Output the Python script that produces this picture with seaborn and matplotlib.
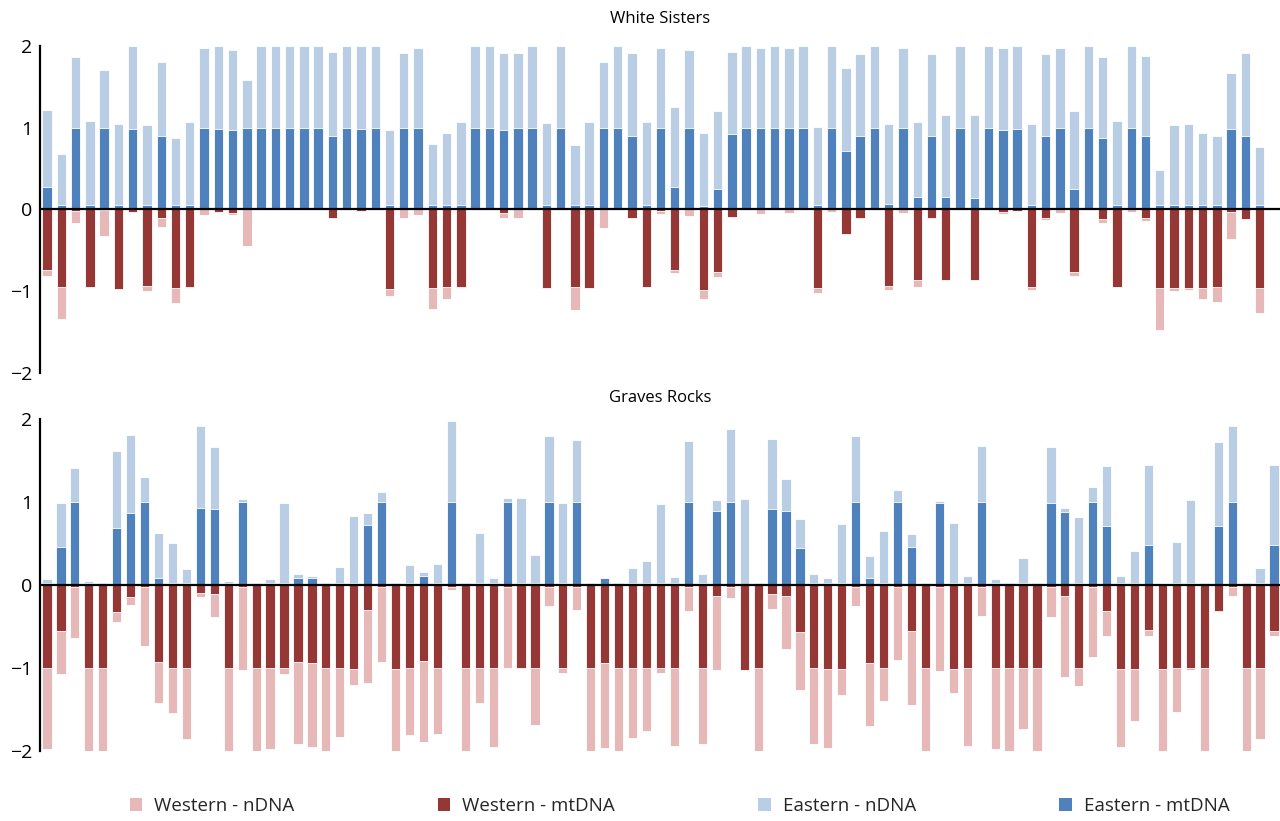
import numpy as np
import pandas as pd
import matplotlib
matplotlib.use("Agg")
import matplotlib.pyplot as plt
from matplotlib.patches import Patch
import seaborn as sns

# ---------------- data ----------------
# White Sisters: Eastern mtDNA, Eastern total (mtDNA + nDNA), Western mtDNA, Western total (magnitudes)
ws_east_mt = [0.27, 0.06, 1.0, 0.06, 1.0, 0.05, 0.98, 0.06, 0.9, 0.05, 0.06, 1.0, 0.98, 0.97, 1.0,
              1.0, 1.0, 1.0, 1.0, 1.0, 0.9, 1.0, 0.99, 1.0, 0.05, 1.0, 1.0, 0.05, 0.06, 0.06,
              1.0, 1.0, 0.97, 1.0, 1.0, 0.05, 1.0, 0.06, 0.05, 1.0, 1.0, 0.9, 0.06, 1.0, 0.27,
              1.0, 0.04, 0.25, 0.92, 1.0, 1.0, 1.0, 1.0, 1.0, 0.05, 1.0, 0.71, 0.9, 1.0, 0.07,
              1.0, 0.15, 0.9, 0.15, 1.0, 0.14, 1.0, 0.97, 0.99, 0.06, 0.9, 1.0, 0.25, 1.0, 0.88,
              0.06, 1.0, 0.9, 0.05, 0.05, 0.05, 0.05, 0.06, 0.98, 0.9, 0.05]
ws_east_total = [1.22, 0.68, 1.87, 1.08, 1.71, 1.05, 2.0, 1.03, 1.81, 0.88, 1.07, 1.97, 2.0, 1.95, 1.58,
                 2.0, 2.0, 2.0, 2.0, 2.0, 1.93, 2.0, 2.0, 2.0, 0.97, 1.91, 1.97, 0.80, 0.93, 1.07,
                 2.0, 2.0, 1.91, 1.91, 2.0, 1.06, 2.0, 0.79, 1.07, 1.81, 2.0, 1.91, 1.07, 1.98, 1.25,
                 1.95, 0.94, 1.20, 1.93, 2.0, 1.97, 2.0, 1.98, 2.0, 1.01, 2.0, 1.73, 1.90, 2.0, 1.04,
                 1.98, 1.07, 1.90, 1.16, 2.0, 1.16, 2.0, 1.98, 2.0, 1.04, 1.90, 1.98, 1.21, 2.0, 1.86,
                 1.08, 2.0, 1.88, 0.48, 1.03, 1.04, 0.94, 0.90, 1.67, 1.91, 0.76]
ws_west_mt = [0.74, 0.95, 0.02, 0.95, 0.01, 0.97, 0.03, 0.94, 0.11, 0.96, 0.95, 0.0, 0.03, 0.04, 0.0,
              0.0, 0.0, 0.0, 0.0, 0.0, 0.10, 0.0, 0.02, 0.0, 0.97, 0.0, 0.0, 0.96, 0.95, 0.95,
              0.0, 0.0, 0.04, 0.0, 0.0, 0.96, 0.0, 0.95, 0.96, 0.0, 0.0, 0.11, 0.95, 0.02, 0.74,
              0.0, 0.98, 0.76, 0.09, 0.0, 0.0, 0.0, 0.0, 0.0, 0.96, 0.0, 0.30, 0.10, 0.0, 0.94,
              0.0, 0.86, 0.10, 0.86, 0.0, 0.86, 0.0, 0.03, 0.02, 0.95, 0.10, 0.0, 0.76, 0.0, 0.12,
              0.95, 0.0, 0.10, 0.96, 0.96, 0.96, 0.96, 0.95, 0.03, 0.12, 0.96]
ws_west_total = [0.81, 1.34, 0.16, 0.95, 0.32, 0.97, 0.03, 1.0, 0.22, 1.14, 0.96, 0.07, 0.03, 0.07, 0.45,
                 0.0, 0.0, 0.0, 0.0, 0.0, 0.10, 0.0, 0.02, 0.0, 1.06, 0.11, 0.07, 1.22, 1.10, 0.96,
                 0.0, 0.0, 0.11, 0.11, 0.0, 0.96, 0.0, 1.23, 0.96, 0.23, 0.0, 0.11, 0.95, 0.06, 0.78,
                 0.08, 1.09, 0.83, 0.10, 0.0, 0.06, 0.0, 0.04, 0.0, 1.02, 0.03, 0.30, 0.12, 0.0, 0.99,
                 0.04, 0.95, 0.12, 0.86, 0.0, 0.86, 0.0, 0.05, 0.02, 0.98, 0.13, 0.04, 0.81, 0.0, 0.17,
                 0.95, 0.03, 0.14, 1.48, 1.0, 0.99, 1.09, 1.13, 0.36, 0.12, 1.27]

# Graves Rocks
gr_east_mt = [0.02, 0.46, 1.0, 0.02, 0.02, 0.69, 0.87, 1.0, 0.09, 0.02, 0.02, 0.93, 0.91, 0.02, 1.0,
              0.02, 0.02, 0.02, 0.09, 0.09, 0.02, 0.02, 0.02, 0.72, 1.0, 0.02, 0.02, 0.11, 0.02, 1.0,
              0.02, 0.02, 0.02, 1.0, 0.02, 0.02, 1.0, 0.02, 1.0, 0.02, 0.09, 0.02, 0.02, 0.02, 0.02,
              0.02, 1.0, 0.02, 0.89, 1.0, 0.0, 0.02, 0.91, 0.89, 0.45, 0.02, 0.02, 0.02, 1.0, 0.09,
              0.02, 1.0, 0.46, 0.02, 0.99, 0.02, 0.02, 1.0, 0.02, 0.02, 0.02, 0.02, 0.99, 0.88, 0.02,
              1.0, 0.71, 0.02, 0.02, 0.48, 0.0, 0.02, 0.02, 0.02, 0.71, 1.0, 0.02, 0.02, 0.48]
gr_east_total = [0.07, 0.99, 1.41, 0.05, 0.02, 1.61, 1.81, 1.30, 0.63, 0.51, 0.19, 1.91, 1.66, 0.05, 1.04,
                 0.03, 0.07, 0.99, 0.13, 0.11, 0.02, 0.22, 0.83, 0.87, 1.12, 0.03, 0.24, 0.16, 0.25, 1.98,
                 0.03, 0.63, 0.09, 1.05, 1.05, 0.36, 1.80, 0.99, 1.75, 0.02, 0.09, 0.03, 0.21, 0.29, 0.98,
                 0.10, 1.74, 0.13, 1.03, 1.88, 1.04, 0.02, 1.76, 1.28, 0.79, 0.13, 0.09, 0.74, 1.80, 0.35,
                 0.65, 1.15, 0.61, 0.03, 1.01, 0.75, 0.11, 1.68, 0.07, 0.03, 0.32, 0.02, 1.66, 0.93, 0.82,
                 1.18, 1.43, 0.11, 0.41, 1.44, 0.0, 0.52, 1.02, 0.02, 1.72, 1.92, 0.04, 0.20, 1.44]
gr_west_mt = [1.0, 0.56, 0.02, 1.0, 1.0, 0.33, 0.15, 0.02, 0.93, 1.0, 1.0, 0.10, 0.11, 1.0, 0.02,
              1.0, 1.0, 1.0, 0.93, 0.94, 1.0, 1.0, 1.01, 0.30, 0.02, 1.01, 1.0, 0.92, 1.0, 0.02,
              1.0, 1.0, 1.0, 0.02, 1.0, 1.0, 0.02, 1.0, 0.02, 1.0, 0.94, 1.0, 1.0, 1.0, 1.0,
              1.0, 0.02, 1.0, 0.13, 0.02, 1.02, 1.0, 0.11, 0.13, 0.57, 1.0, 1.01, 1.01, 0.02, 0.94,
              1.0, 0.02, 0.56, 1.0, 0.03, 1.01, 1.0, 0.02, 1.0, 1.0, 1.0, 1.0, 0.03, 0.13, 1.0,
              0.02, 0.31, 1.01, 1.01, 0.54, 1.01, 1.0, 1.0, 1.0, 0.31, 0.02, 1.0, 1.0, 0.55]
gr_west_total = [1.98, 1.07, 0.64, 2.0, 2.0, 0.45, 0.24, 0.74, 1.42, 1.54, 1.86, 0.14, 0.39, 2.0, 1.02,
                 2.0, 1.98, 1.07, 1.91, 1.95, 2.0, 1.83, 1.21, 1.18, 0.93, 2.01, 1.81, 1.89, 1.80, 0.06,
                 2.0, 1.42, 1.95, 1.0, 1.0, 1.69, 0.25, 1.06, 0.30, 2.0, 1.96, 2.0, 1.84, 1.76, 1.06,
                 1.94, 0.31, 1.91, 1.02, 0.16, 1.02, 2.0, 0.29, 0.77, 1.26, 1.91, 1.96, 1.32, 0.25, 1.70,
                 1.40, 0.90, 1.44, 2.0, 1.04, 1.30, 1.94, 0.37, 1.98, 2.0, 1.73, 2.0, 0.39, 1.11, 1.22,
                 0.87, 0.62, 1.95, 1.64, 0.61, 2.0, 1.53, 1.03, 2.0, 0.33, 0.13, 2.0, 1.85, 0.61]

titles = ["White Sisters", "Graves Rocks"]
legend_labels = ["Western - nDNA", "Western - mtDNA", "Eastern - nDNA", "Eastern - mtDNA"]
yticks = [-2, -1, 0, 1, 2]

# ---------------- style ----------------
C_W_N = "#E6B9B8"
C_W_MT = "#953735"
C_E_N = "#B9CDE5"
C_E_MT = "#4F81BD"

sns.set_theme(style="white")
plt.rcParams["font.family"] = ["Open Sans", "DejaVu Sans"]
plt.rcParams["axes.unicode_minus"] = True

fig = plt.figure(figsize=(12.8, 8.21), dpi=100)
ax_top = fig.add_axes([40 / 1280, 1 - 373 / 821, 1241 / 1280, 327 / 821])
ax_bot = fig.add_axes([40 / 1280, 1 - 751 / 821, 1241 / 1280, 332 / 821])

panels = [
    (ax_top, ws_east_mt, ws_east_total, ws_west_mt, ws_west_total, 87, 16.5),
    (ax_bot, gr_east_mt, gr_east_total, gr_west_mt, gr_west_total, 89, 12.0),
]

for (ax, e_mt, e_tot, w_mt, w_tot, ncat, tpad), title in zip(panels, titles):
    n = len(e_mt)
    df = pd.DataFrame({
        "idx": np.arange(n),
        "e_mt": e_mt, "e_tot": e_tot,
        "w_mt": -np.asarray(w_mt), "w_tot": -np.asarray(w_tot),
    })
    common = dict(x="idx", width=0.66, saturation=1, edgecolor="white",
                  linewidth=0.6, ax=ax, native_scale=True, errorbar=None)
    sns.barplot(data=df, y="e_tot", color=C_E_N, **common)
    sns.barplot(data=df, y="e_mt", color=C_E_MT, **common)
    sns.barplot(data=df, y="w_tot", color=C_W_N, **common)
    sns.barplot(data=df, y="w_mt", color=C_W_MT, **common)

    ax.axhline(0, color="black", lw=1.6, zorder=5)
    ax.set_xlim(-0.5, ncat - 0.5)
    ax.set_ylim(-2, 2)
    ax.set_yticks(yticks)
    ax.set_yticklabels(["\u22122", "\u22121", "0", "1", "2"])
    ax.set_xticks([])
    ax.set_xlabel("")
    ax.set_ylabel("")
    for s in ["top", "right", "bottom"]:
        ax.spines[s].set_visible(False)
    ax.spines["left"].set_color("black")
    ax.spines["left"].set_linewidth(1.6)
    ax.tick_params(axis="y", length=0, labelsize=14, colors="black", pad=5.5)
    ax.set_title(title, fontsize=12, color="black", pad=tpad)

handles = [Patch(facecolor=c, edgecolor="none") for c in [C_W_N, C_W_MT, C_E_N, C_E_MT]]
fig.legend(handles, legend_labels, loc="center", ncol=4,
           bbox_to_anchor=(0.531, 1 - 806 / 821), frameon=False, fontsize=13.5,
           handlelength=0.65, handleheight=0.65, handletextpad=0.65, columnspacing=7.65)

fig.savefig("out.png", dpi=100)
